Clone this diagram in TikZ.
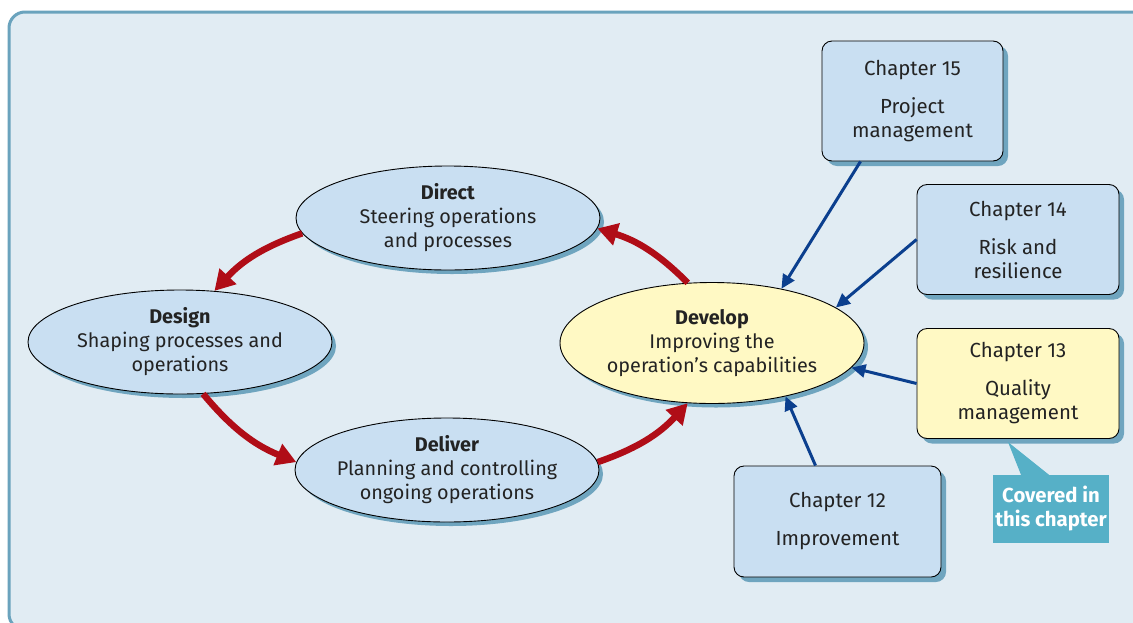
\documentclass[tikz,border=0pt]{standalone}
\usepackage{fontspec}
\setmainfont{Fira Sans}
\usetikzlibrary{arrows.meta,shapes.geometric,shadows,calc}
\definecolor{bgc}{HTML}{E1ECF3}
\definecolor{panelc}{HTML}{6AA3BD}
\definecolor{shadc}{HTML}{6FA5BF}
\definecolor{bluefill}{HTML}{C9DFF2}
\definecolor{yelfill}{HTML}{FFF9C4}
\definecolor{redc}{HTML}{B00D17}
\definecolor{navyc}{HTML}{0B3F8E}
\definecolor{calloutc}{HTML}{56B0C7}
\definecolor{txtc}{HTML}{232323}
\tikzset{
  ell/.style={ellipse, draw=black, line width=0.9pt, fill=bluefill, inner ysep=0pt, inner xsep=-12pt,
    minimum width=304pt, minimum height=104pt, align=center, text=txtc,
    font=\fontsize{19.8}{24}\selectfont,
    drop shadow={shadow xshift=4pt, shadow yshift=-4pt, fill=shadc, opacity=1}},
  chbox/.style={rectangle, rounded corners=10pt, draw=black, line width=0.9pt, fill=bluefill,
    inner sep=0pt, align=center, text=txtc, font=\fontsize{20.4}{24}\selectfont,
    drop shadow={shadow xshift=5pt, shadow yshift=-5pt, fill=shadc, opacity=1}},
  redarrow/.style={draw=redc, line width=6.5pt, -{Triangle[width=22pt,length=20pt]}},
  bluearrow/.style={draw=navyc, line width=3pt, -{Triangle[width=13pt,length=14pt]}},
}
\begin{document}
\begin{tikzpicture}[x=1pt,y=-1pt]
\clip (0,0) rectangle (1133,622);
\fill[white] (0,0) rectangle (1133,622);
\draw[panelc, line width=3pt, fill=bgc, rounded corners=16pt] (9,12) rectangle (1150,630);

% ellipses
\node[ell] (direct) at (448,218) {\textbf{Direct}\\Steering operations\\and processes};
\node[ell] (design) at (180,342) {\textbf{Design}\\Shaping processes and\\operations};
\node[ell] (deliver) at (447,470) {\textbf{Deliver}\\Planning and controlling\\ongoing operations};
\node[ell, fill=yelfill, minimum height=121pt] (develop) at (712,343) {\textbf{Develop}\\Improving the\\operation’s capabilities};

% chapter boxes
\node[chbox, minimum width=181pt, minimum height=120pt] (ch15) at (912.5,101) {Chapter 15\\[14pt]Project\\management};
\node[chbox, minimum width=202pt, minimum height=110pt] (ch14) at (1018,239.5) {Chapter 14\\[14pt]Risk and\\resilience};
\node[chbox, fill=yelfill, minimum width=202pt, minimum height=110pt] (ch13) at (1018,383.5) {Chapter 13\\[14pt]Quality\\management};
\node[chbox, minimum width=207pt, minimum height=111pt] (ch12) at (837.5,521.5) {Chapter 12\\[14pt]Improvement};

% callout
\node[fill=calloutc, text=white, font=\fontsize{20.3}{24}\selectfont\bfseries, align=center,
  minimum width=116pt, minimum height=68pt, inner sep=0pt] (covered) at (1051,509) {Covered in\\this chapter};
\coordinate (tip) at (1008,442);
\fill[calloutc] (tip) -- ([xshift=-30pt]covered.north) -- ([xshift=-2pt]covered.north) -- cycle;

% red cycle arrows
\draw[redarrow] (direct.186) to[bend right=14] (design.56);
\draw[redarrow] (design.-66) to[bend right=14] (deliver.177);
\draw[redarrow] (deliver.3) to[bend right=14] (develop.-112);
\draw[redarrow] (develop.112) to[bend right=14] (direct.-4);

% blue arrows
\draw[bluearrow] ([xshift=-52pt]ch15.south) -- (develop.38);
\draw[bluearrow] (ch14.west) -- (develop.16);
\draw[bluearrow] (ch13.west) -- (develop.-10);
\draw[bluearrow] ([xshift=-22pt]ch12.north) -- (develop.-36);
\end{tikzpicture}
\end{document}
